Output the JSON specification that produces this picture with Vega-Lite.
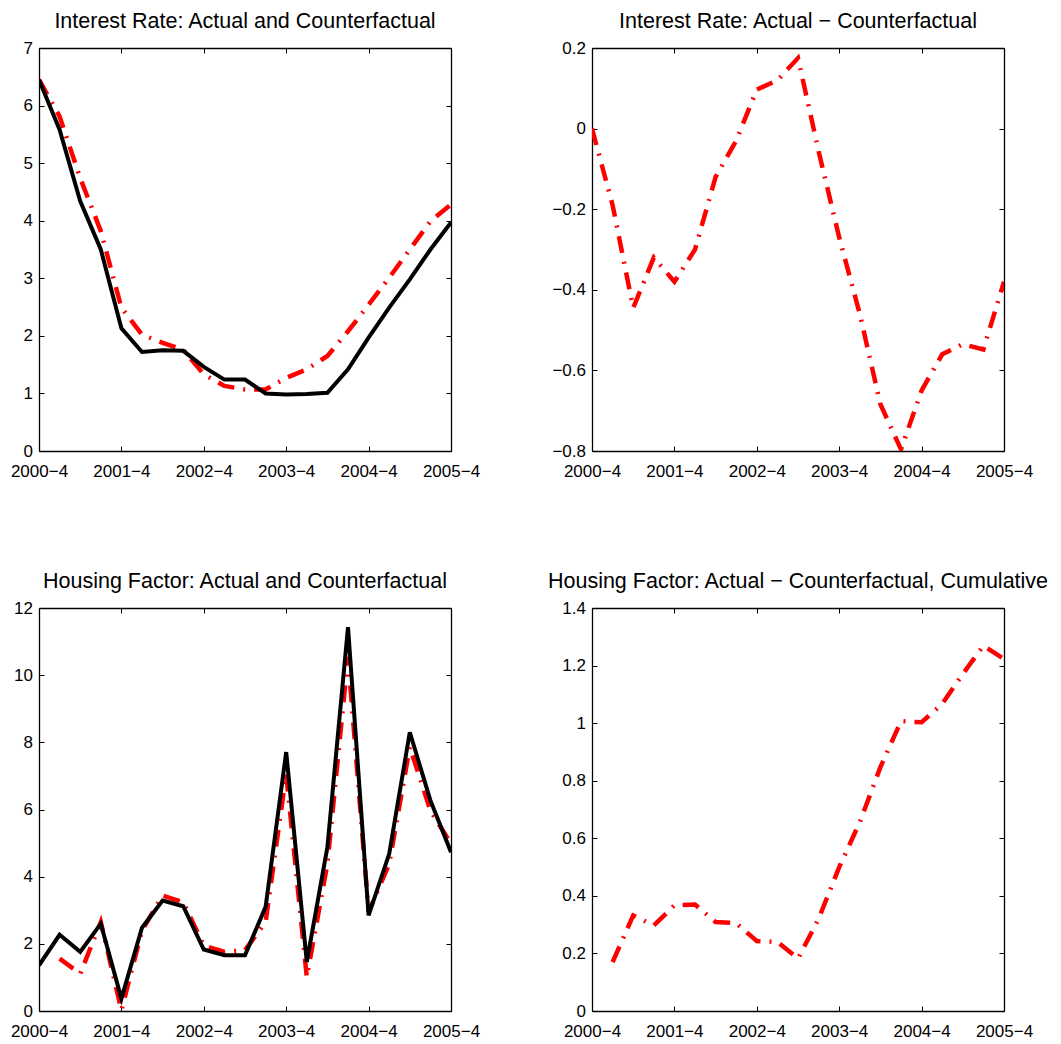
{
  "$schema": "https://vega.github.io/schema/vega-lite/v6.json",
  "background": "white",
  "padding": {"left": 10, "top": 10, "right": 5, "bottom": 5},
  "bounds": "flush",
  "columns": 2,
  "spacing": {"row": 157, "column": 141},
  "config": {
    "font": "Liberation Sans",
    "view": {"stroke": null},
    "axis": {
      "domainColor": "black", "domainWidth": 1.3, "tickColor": "black", "tickWidth": 1,
      "tickSize": -5, "labelColor": "black", "labelFont": "Liberation Sans",
      "labelFontSize": 17, "grid": false, "title": null
    },
    "axisX": {"labelPadding": 17},
    "axisY": {"labelPadding": 11.5},
    "title": {"font": "Liberation Sans", "fontSize": 21.5, "fontWeight": "normal", "color": "black", "anchor": "middle", "frame": "group", "offset": 7}
  },
  "datasets": {
    "interest": [
      {"quarter": "2000-4", "actual": 6.45, "counterfactual": 6.45},
      {"quarter": "2001-1", "actual": 5.58, "counterfactual": 5.81},
      {"quarter": "2001-2", "actual": 4.34, "counterfactual": 4.74},
      {"quarter": "2001-3", "actual": 3.50, "counterfactual": 3.82},
      {"quarter": "2001-4", "actual": 2.13, "counterfactual": 2.49},
      {"quarter": "2002-1", "actual": 1.72, "counterfactual": 2.02},
      {"quarter": "2002-2", "actual": 1.75, "counterfactual": 1.88},
      {"quarter": "2002-3", "actual": 1.74, "counterfactual": 1.76},
      {"quarter": "2002-4", "actual": 1.46, "counterfactual": 1.33},
      {"quarter": "2003-1", "actual": 1.24, "counterfactual": 1.13},
      {"quarter": "2003-2", "actual": 1.24, "counterfactual": 1.07},
      {"quarter": "2003-3", "actual": 1.00, "counterfactual": 1.07},
      {"quarter": "2003-4", "actual": 0.98, "counterfactual": 1.27},
      {"quarter": "2004-1", "actual": 0.99, "counterfactual": 1.42},
      {"quarter": "2004-2", "actual": 1.01, "counterfactual": 1.65},
      {"quarter": "2004-3", "actual": 1.42, "counterfactual": 2.08},
      {"quarter": "2004-4", "actual": 1.97, "counterfactual": 2.54},
      {"quarter": "2005-1", "actual": 2.49, "counterfactual": 3.01},
      {"quarter": "2005-2", "actual": 2.98, "counterfactual": 3.50},
      {"quarter": "2005-3", "actual": 3.50, "counterfactual": 3.99},
      {"quarter": "2005-4", "actual": 3.97, "counterfactual": 4.28}
    ],
    "interest_diff": [
      {"quarter": "2000-4", "diff": 0.0},
      {"quarter": "2001-1", "diff": -0.19},
      {"quarter": "2001-2", "diff": -0.445},
      {"quarter": "2001-3", "diff": -0.32},
      {"quarter": "2001-4", "diff": -0.38},
      {"quarter": "2002-1", "diff": -0.30},
      {"quarter": "2002-2", "diff": -0.12},
      {"quarter": "2002-3", "diff": -0.03},
      {"quarter": "2002-4", "diff": 0.097},
      {"quarter": "2003-1", "diff": 0.12},
      {"quarter": "2003-2", "diff": 0.175},
      {"quarter": "2003-3", "diff": -0.056},
      {"quarter": "2003-4", "diff": -0.27},
      {"quarter": "2004-1", "diff": -0.46},
      {"quarter": "2004-2", "diff": -0.684},
      {"quarter": "2004-3", "diff": -0.796},
      {"quarter": "2004-4", "diff": -0.65},
      {"quarter": "2005-1", "diff": -0.56},
      {"quarter": "2005-2", "diff": -0.535},
      {"quarter": "2005-3", "diff": -0.548},
      {"quarter": "2005-4", "diff": -0.38}
    ],
    "housing": [
      {"quarter": "2000-4", "actual": 1.36, "counterfactual": null},
      {"quarter": "2001-1", "actual": 2.27, "counterfactual": 1.56},
      {"quarter": "2001-2", "actual": 1.76, "counterfactual": 1.11},
      {"quarter": "2001-3", "actual": 2.60, "counterfactual": 2.65},
      {"quarter": "2001-4", "actual": 0.37, "counterfactual": 0.02},
      {"quarter": "2002-1", "actual": 2.48, "counterfactual": 2.40},
      {"quarter": "2002-2", "actual": 3.29, "counterfactual": 3.44},
      {"quarter": "2002-3", "actual": 3.12, "counterfactual": 3.24},
      {"quarter": "2002-4", "actual": 1.83, "counterfactual": 1.95},
      {"quarter": "2003-1", "actual": 1.66, "counterfactual": 1.76},
      {"quarter": "2003-2", "actual": 1.66, "counterfactual": 1.81},
      {"quarter": "2003-3", "actual": 3.10, "counterfactual": 2.65},
      {"quarter": "2003-4", "actual": 7.71, "counterfactual": 7.06},
      {"quarter": "2004-1", "actual": 1.46, "counterfactual": 1.01},
      {"quarter": "2004-2", "actual": 4.88, "counterfactual": 4.38},
      {"quarter": "2004-3", "actual": 11.43, "counterfactual": 10.54},
      {"quarter": "2004-4", "actual": 2.85, "counterfactual": 2.95},
      {"quarter": "2005-1", "actual": 4.68, "counterfactual": 4.38},
      {"quarter": "2005-2", "actual": 8.30, "counterfactual": 7.86},
      {"quarter": "2005-3", "actual": 6.27, "counterfactual": 5.97},
      {"quarter": "2005-4", "actual": 4.73, "counterfactual": 4.98}
    ],
    "housing_cum": [
      {"quarter": "2001-1", "cum": 0.17},
      {"quarter": "2001-2", "cum": 0.332},
      {"quarter": "2001-3", "cum": 0.297},
      {"quarter": "2001-4", "cum": 0.367},
      {"quarter": "2002-1", "cum": 0.370},
      {"quarter": "2002-2", "cum": 0.309},
      {"quarter": "2002-3", "cum": 0.305},
      {"quarter": "2002-4", "cum": 0.243},
      {"quarter": "2003-1", "cum": 0.240},
      {"quarter": "2003-2", "cum": 0.182},
      {"quarter": "2003-3", "cum": 0.320},
      {"quarter": "2003-4", "cum": 0.50},
      {"quarter": "2004-1", "cum": 0.656},
      {"quarter": "2004-2", "cum": 0.847},
      {"quarter": "2004-3", "cum": 1.007},
      {"quarter": "2004-4", "cum": 1.003},
      {"quarter": "2005-1", "cum": 1.067},
      {"quarter": "2005-2", "cum": 1.171},
      {"quarter": "2005-3", "cum": 1.269},
      {"quarter": "2005-4", "cum": 1.223}
    ]
  },
  "concat": [
    {
      "width": 412, "height": 403,
      "title": "Interest Rate: Actual and Counterfactual",
      "data": {"name": "interest"},
      "resolve": {"axis": {"x": "independent", "y": "independent"}},
      "layer": [
        {
          "mark": {"type": "line", "color": "#ff0000", "strokeWidth": 4.5, "strokeDash": [17, 9, 2, 9], "clip": true},
          "encoding": {
            "x": {"field": "quarter", "type": "ordinal", "scale": {"type": "point", "padding": 0, "domain": ["2000-4","2001-1","2001-2","2001-3","2001-4","2002-1","2002-2","2002-3","2002-4","2003-1","2003-2","2003-3","2003-4","2004-1","2004-2","2004-3","2004-4","2005-1","2005-2","2005-3","2005-4"]}, "axis": {"orient": "bottom", "values": ["2000-4","2001-4","2002-4","2003-4","2004-4","2005-4"], "labelExpr": "replace(datum.label, '-', '−')", "labelAngle": 0}},
            "y": {"field": "counterfactual", "type": "quantitative", "scale": {"domain": [0, 7], "nice": false, "zero": false}, "axis": {"orient": "left", "values": [0,1,2,3,4,5,6,7], "format": "~f"}}
          }
        },
        {
          "mark": {"type": "line", "color": "#000000", "strokeWidth": 4, "clip": true},
          "encoding": {
            "x": {"field": "quarter", "type": "ordinal", "axis": {"orient": "top", "values": ["2000-4","2001-4","2002-4","2003-4","2004-4","2005-4"], "labels": false}},
            "y": {"field": "actual", "type": "quantitative", "axis": {"orient": "right", "values": [0,1,2,3,4,5,6,7], "labels": false}}
          }
        }
      ]
    },
    {
      "width": 412, "height": 403,
      "title": "Interest Rate: Actual − Counterfactual",
      "data": {"name": "interest_diff"},
      "resolve": {"axis": {"x": "independent", "y": "independent"}},
      "layer": [
        {
          "mark": {"type": "line", "color": "#ff0000", "strokeWidth": 4.5, "strokeDash": [17, 9, 2, 9], "clip": true},
          "encoding": {
            "x": {"field": "quarter", "type": "ordinal", "scale": {"type": "point", "padding": 0, "domain": ["2000-4","2001-1","2001-2","2001-3","2001-4","2002-1","2002-2","2002-3","2002-4","2003-1","2003-2","2003-3","2003-4","2004-1","2004-2","2004-3","2004-4","2005-1","2005-2","2005-3","2005-4"]}, "axis": {"orient": "bottom", "values": ["2000-4","2001-4","2002-4","2003-4","2004-4","2005-4"], "labelExpr": "replace(datum.label, '-', '−')", "labelAngle": 0}},
            "y": {"field": "diff", "type": "quantitative", "scale": {"domain": [-0.8, 0.2], "nice": false, "zero": false}, "axis": {"orient": "left", "values": [-0.8,-0.6,-0.4,-0.2,0,0.2], "format": "~f"}}
          }
        },
        {
          "mark": {"type": "line", "color": "#ff0000", "strokeOpacity": 0},
          "encoding": {
            "x": {"field": "quarter", "type": "ordinal", "axis": {"orient": "top", "values": ["2000-4","2001-4","2002-4","2003-4","2004-4","2005-4"], "labels": false}},
            "y": {"field": "diff", "type": "quantitative", "axis": {"orient": "right", "values": [-0.8,-0.6,-0.4,-0.2,0,0.2], "labels": false}}
          }
        }
      ]
    },
    {
      "width": 412, "height": 403,
      "title": "Housing Factor: Actual and Counterfactual",
      "data": {"name": "housing"},
      "resolve": {"axis": {"x": "independent", "y": "independent"}},
      "layer": [
        {
          "mark": {"type": "line", "color": "#ff0000", "strokeWidth": 4.5, "strokeDash": [17, 9, 2, 9], "clip": true},
          "encoding": {
            "x": {"field": "quarter", "type": "ordinal", "scale": {"type": "point", "padding": 0, "domain": ["2000-4","2001-1","2001-2","2001-3","2001-4","2002-1","2002-2","2002-3","2002-4","2003-1","2003-2","2003-3","2003-4","2004-1","2004-2","2004-3","2004-4","2005-1","2005-2","2005-3","2005-4"]}, "axis": {"orient": "bottom", "values": ["2000-4","2001-4","2002-4","2003-4","2004-4","2005-4"], "labelExpr": "replace(datum.label, '-', '−')", "labelAngle": 0}},
            "y": {"field": "counterfactual", "type": "quantitative", "scale": {"domain": [0, 12], "nice": false, "zero": false}, "axis": {"orient": "left", "values": [0,2,4,6,8,10,12], "format": "~f"}}
          }
        },
        {
          "mark": {"type": "line", "color": "#000000", "strokeWidth": 4, "clip": true},
          "encoding": {
            "x": {"field": "quarter", "type": "ordinal", "axis": {"orient": "top", "values": ["2000-4","2001-4","2002-4","2003-4","2004-4","2005-4"], "labels": false}},
            "y": {"field": "actual", "type": "quantitative", "axis": {"orient": "right", "values": [0,2,4,6,8,10,12], "labels": false}}
          }
        }
      ]
    },
    {
      "width": 412, "height": 403,
      "title": "Housing Factor: Actual − Counterfactual, Cumulative",
      "data": {"name": "housing_cum"},
      "resolve": {"axis": {"x": "independent", "y": "independent"}},
      "layer": [
        {
          "mark": {"type": "line", "color": "#ff0000", "strokeWidth": 4.5, "strokeDash": [17, 9, 2, 9], "clip": true},
          "encoding": {
            "x": {"field": "quarter", "type": "ordinal", "scale": {"type": "point", "padding": 0, "domain": ["2000-4","2001-1","2001-2","2001-3","2001-4","2002-1","2002-2","2002-3","2002-4","2003-1","2003-2","2003-3","2003-4","2004-1","2004-2","2004-3","2004-4","2005-1","2005-2","2005-3","2005-4"]}, "axis": {"orient": "bottom", "values": ["2000-4","2001-4","2002-4","2003-4","2004-4","2005-4"], "labelExpr": "replace(datum.label, '-', '−')", "labelAngle": 0}},
            "y": {"field": "cum", "type": "quantitative", "scale": {"domain": [0, 1.4], "nice": false, "zero": false}, "axis": {"orient": "left", "values": [0,0.2,0.4,0.6,0.8,1,1.2,1.4], "format": "~f"}}
          }
        },
        {
          "mark": {"type": "line", "color": "#ff0000", "strokeOpacity": 0},
          "encoding": {
            "x": {"field": "quarter", "type": "ordinal", "axis": {"orient": "top", "values": ["2000-4","2001-4","2002-4","2003-4","2004-4","2005-4"], "labels": false}},
            "y": {"field": "cum", "type": "quantitative", "axis": {"orient": "right", "values": [0,0.2,0.4,0.6,0.8,1,1.2,1.4], "labels": false}}
          }
        }
      ]
    }
  ]
}
